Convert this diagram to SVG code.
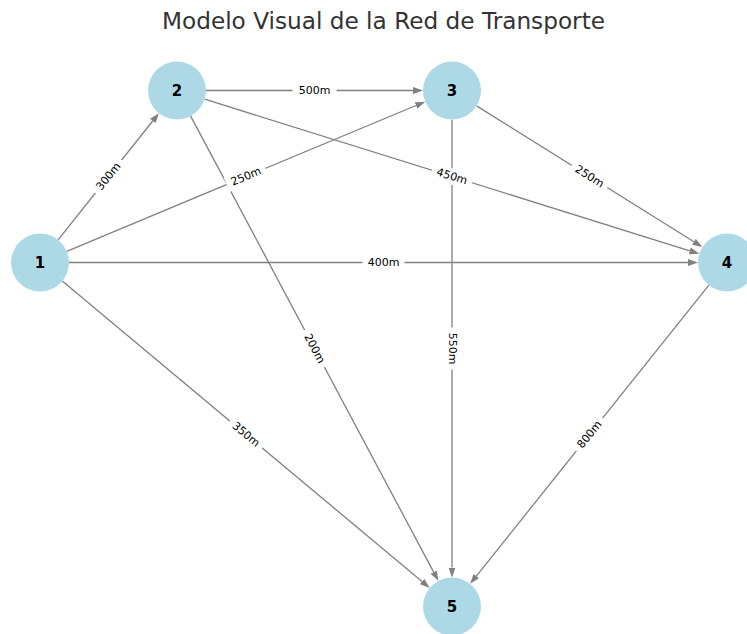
<svg xmlns="http://www.w3.org/2000/svg" width="747" height="634" viewBox="0 0 747 634">
<defs>
<marker id="arr" markerUnits="userSpaceOnUse" markerWidth="10" markerHeight="8" refX="0" refY="3.5" orient="auto" viewBox="0 0 10 7">
<path d="M0,0 L10,3.5 L0,7 z" fill="#808080"/>
</marker>
<style>
.edge{stroke:#808080;stroke-width:1.3;fill:none;marker-end:url(#arr)}
.node circle{fill:#ADD8E6}
.node text{font-family:"DejaVu Sans",sans-serif;font-size:15px;font-weight:bold;fill:#000;text-anchor:middle;dominant-baseline:central}
.lbl rect{fill:#fff}
.lbl text{font-family:"DejaVu Sans",sans-serif;font-size:11px;fill:#000;text-anchor:middle;dominant-baseline:central}
.title{font-family:"DejaVu Sans",sans-serif;font-size:23.2px;fill:#333;text-anchor:middle}
</style>
</defs>
<rect width="747" height="634" fill="#fff"/>
<text class="title" x="383.5" y="28.5">Modelo Visual de la Red de Transporte</text>
<g id="edges">
<line class="edge" x1="58.07" y1="239.8" x2="152.70" y2="121.0"/>
<line class="edge" x1="66.76" y1="251.33" x2="416.01" y2="105.52"/>
<line class="edge" x1="69" y1="262.5" x2="688" y2="262.5"/>
<line class="edge" x1="62.26" y1="281.09" x2="422.06" y2="581.50"/>
<line class="edge" x1="206" y1="90.5" x2="413" y2="90.5"/>
<line class="edge" x1="204.68" y1="99.16" x2="689.78" y2="250.86"/>
<line class="edge" x1="190.64" y1="116.09" x2="433.66" y2="572.08"/>
<line class="edge" x1="476.59" y1="105.88" x2="693.93" y2="241.82"/>
<line class="edge" x1="452" y1="119.5" x2="452" y2="567.5"/>
<line class="edge" x1="708.89" y1="285.15" x2="476.35" y2="576.04"/>
</g>
<g id="edge-labels">
<g class="lbl" transform="translate(108.5,176.5) rotate(-51.46)"><rect x="-21" y="-8" width="42" height="16"/><text>300m</text></g>
<g class="lbl" transform="translate(246,176.5) rotate(-22.66)"><rect x="-21" y="-8" width="42" height="16"/><text>250m</text></g>
<g class="lbl" transform="translate(383.5,262.5)"><rect x="-21" y="-8" width="42" height="16"/><text>400m</text></g>
<g class="lbl" transform="translate(246,434.5) rotate(39.87)"><rect x="-21" y="-8" width="42" height="16"/><text>350m</text></g>
<g class="lbl" transform="translate(314.5,90.5)"><rect x="-22" y="-8" width="44" height="16"/><text>500m</text></g>
<g class="lbl" transform="translate(452,176.5) rotate(17.37)"><rect x="-21" y="-8" width="42" height="16"/><text>450m</text></g>
<g class="lbl" transform="translate(314.5,348.5) rotate(61.94)"><rect x="-21" y="-8" width="42" height="16"/><text>200m</text></g>
<g class="lbl" transform="translate(589.5,176.5) rotate(32.02)"><rect x="-21" y="-8" width="42" height="16"/><text>250m</text></g>
<g class="lbl" transform="translate(452,348.5) rotate(90)"><rect x="-21" y="-8" width="42" height="16"/><text>550m</text></g>
<g class="lbl" transform="translate(589.5,434.5) rotate(-51.36)"><rect x="-21" y="-8" width="42" height="16"/><text>800m</text></g>
</g>
<g id="node1" class="node"><circle cx="40" cy="262.5" r="29"/><text x="40" y="262.5">1</text></g>
<g id="node2" class="node"><circle cx="177" cy="90.5" r="29"/><text x="177" y="90.5">2</text></g>
<g id="node3" class="node"><circle cx="452" cy="90.5" r="29"/><text x="452" y="90.5">3</text></g>
<g id="node4" class="node"><circle cx="727" cy="262.5" r="29"/><text x="727" y="262.5">4</text></g>
<g id="node5" class="node"><circle cx="452" cy="606.5" r="29"/><text x="452" y="606.5">5</text></g>
</svg>
